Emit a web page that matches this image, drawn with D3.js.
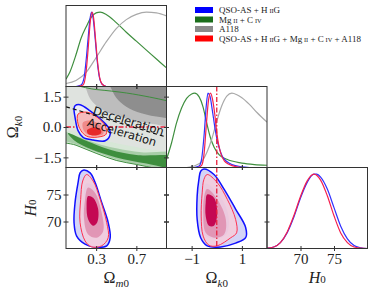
<!DOCTYPE html>
<html>
<head>
<meta charset="utf-8">
<script src="https://cdn.jsdelivr.net/npm/d3@7"></script>
<style>
  body { margin: 0; background: #fff; }
  svg { display: block; }
</style>
</head>
<body>
<svg id="chart" width="374" height="291"></svg>
<script>
// ---- tick values ----
var omTicks = [0.3, 0.7];
var okTicksY = [-1.5, 0, 1.5];
var okTicksX = [-1, 1];
var h0Ticks = [70, 75];

// ---- legend ----
var legendLabels = ["QSO-AS + H\u2009[II]G", "Mg\u2009[II] + C\u2009[IV]", "A118",
                    "QSO-AS + H\u2009[II]G + Mg\u2009[II] + C\u2009[IV] + A118"];
var legendColors = ["#0000ff", "#1b6e1b", "#8a8a8a", "#ff0000"];

// ---- 1D marginals [value, normalised density] ----
var omGreen = [[0,0.1],[0.04,0.2],[0.1,0.43],[0.15,0.65],[0.2,0.8],[0.25,0.93],[0.3,0.99],[0.34,1.0],[0.4,0.97],[0.5,0.86],[0.6,0.73],[0.7,0.61],[0.8,0.49],[0.9,0.37],[1.0,0.25]];
var omGray = [[0,0.04],[0.1,0.08],[0.2,0.19],[0.3,0.39],[0.4,0.6],[0.5,0.78],[0.6,0.9],[0.7,0.97],[0.8,1.0],[0.9,0.99],[1.0,0.95]];
var omBlue = [[0.1,0],[0.15,0.02],[0.18,0.12],[0.2,0.35],[0.22,0.65],[0.24,0.92],[0.255,1.0],[0.27,0.92],[0.29,0.65],[0.31,0.35],[0.33,0.14],[0.36,0.03],[0.4,0]];
var omRed = [[0.12,0],[0.17,0.02],[0.2,0.2],[0.22,0.5],[0.24,0.85],[0.26,1.0],[0.275,0.92],[0.295,0.62],[0.315,0.32],[0.335,0.12],[0.36,0.03],[0.4,0]];

var okGreen = [[-2,0.11],[-1.8,0.33],[-1.6,0.6],[-1.4,0.8],[-1.2,0.93],[-1,0.99],[-0.88,1.0],[-0.7,0.95],[-0.55,0.82],[-0.4,0.6],[-0.25,0.4],[-0.1,0.27],[0.1,0.17],[0.4,0.11],[1,0.06],[1.5,0.04],[2,0.03]];
var okGray = [[-1.2,0],[-0.9,0.02],[-0.6,0.08],[-0.4,0.2],[-0.2,0.38],[0,0.62],[0.2,0.83],[0.4,0.96],[0.6,1.0],[0.8,0.98],[1.0,0.94],[1.3,0.85],[1.6,0.74],[2.0,0.61]];
var okBlue = [[-0.9,0],[-0.7,0.02],[-0.6,0.12],[-0.5,0.45],[-0.42,0.82],[-0.35,1.0],[-0.27,0.96],[-0.18,0.78],[-0.08,0.55],[0.02,0.36],[0.12,0.24],[0.22,0.15],[0.4,0.08],[0.6,0.04],[1.0,0.01],[1.3,0]];
var okRed = [[-0.75,0],[-0.6,0.03],[-0.5,0.2],[-0.42,0.55],[-0.33,0.9],[-0.25,1.0],[-0.17,0.92],[-0.08,0.72],[0.0,0.47],[0.08,0.3],[0.18,0.17],[0.3,0.09],[0.5,0.04],[0.8,0.01],[1.1,0]];

var h0Blue = [[65,0.005],[66,0.02],[67,0.08],[68,0.21],[69,0.42],[70,0.68],[71,0.89],[72,1.0],[72.4,1.0],[73,0.96],[74,0.8],[75,0.55],[76,0.3],[77,0.13],[78,0.04],[79,0.01],[80,0]];
var h0Red = [[65,0.005],[66,0.02],[67,0.08],[68,0.22],[69,0.44],[70,0.7],[71,0.91],[72,1.0],[73,0.92],[74,0.71],[75,0.44],[76,0.21],[77,0.08],[78,0.02],[79,0.005],[80,0]];

// ---- 2D contours, Omega_m0 vs Omega_k0 ----
var mkGreenOuter = [[-0.1,2.0],[0.3,1.85],[0.6,1.68],[0.83,1.48],[1.0,1.3],[1.15,1.1],[1.15,-2.3],[0.9,-2.05],[0.7,-1.85],[0.5,-1.65],[0.3,-1.3],[0.1,-0.9],[-0.1,-0.55]];
var mkGrayOuter = [[-0.2,2.3],[1.2,2.3],[1.2,-1.3],[0.9,-1.15],[0.6,-0.9],[0.3,-0.55],[0.1,-0.25],[-0.2,0.1]];
var mkGrayMid = [[0.15,2.3],[1.2,2.3],[1.2,0.0],[0.9,0.12],[0.7,0.3],[0.5,0.55],[0.33,0.95],[0.24,1.4],[0.19,2.0]];
var mkGrayInner = [[0.42,2.3],[1.2,2.3],[1.2,0.4],[0.95,0.48],[0.75,0.68],[0.6,1.0],[0.5,1.45],[0.45,1.9]];
var mkGreenMid = [[-0.1,-0.1],[0.1,-0.45],[0.3,-0.8],[0.5,-1.05],[0.75,-1.25],[1.15,-1.35],[1.15,-2.2],[0.8,-1.92],[0.5,-1.6],[0.3,-1.25],[0.1,-0.85],[-0.1,-0.5]];
var mkGreenInner = [[0.02,-0.3],[0.2,-0.68],[0.44,-1.12],[0.7,-1.38],[1.15,-1.52],[1.15,-2.05],[0.8,-1.8],[0.5,-1.5],[0.25,-1.1],[0.08,-0.65]];
var mkBlueOuter = [[0.09,1.05],[0.14,1.1],[0.24,0.8],[0.34,0.4],[0.42,-0.01],[0.44,-0.35],[0.39,-0.68],[0.27,-0.64],[0.17,-0.51],[0.12,-0.18],[0.09,0.48],[0.08,0.89]];
var mkRedOuter = [[0.12,0.64],[0.21,0.73],[0.31,0.48],[0.39,0.06],[0.4,-0.35],[0.34,-0.48],[0.22,-0.48],[0.16,-0.26],[0.12,0.15]];
var mkRedMid = [[0.17,0.23],[0.26,0.31],[0.36,-0.01],[0.37,-0.35],[0.31,-0.43],[0.21,-0.35],[0.17,-0.1]];
var mkRedInner = [[0.21,-0.15],[0.27,-0.02],[0.34,-0.1],[0.35,-0.3],[0.29,-0.42],[0.22,-0.35]];
var qZeroLine = [[0, 1], [1, -0.5]];       // deceleration/acceleration boundary
var decelAt = [0.26, 0.64], accelAt = [0.205, 0.06];

// ---- 2D contours, Omega_m0 vs H0 ----
var mhBlueOuter = [[0.17,79.5],[0.24,79.0],[0.29,77.2],[0.355,73.5],[0.42,69.8],[0.44,67.0],[0.405,65.5],[0.27,65.3],[0.19,65.8],[0.106,67.3],[0.08,69.8],[0.09,73.5],[0.12,77.2],[0.14,79.0]];
var mhBlueMid = [[0.2,77.0],[0.28,76.5],[0.345,72.5],[0.36,68.8],[0.3,67.6],[0.21,68.2],[0.17,71],[0.175,74.5]];
var mhBlueInner = [[0.2,75.5],[0.265,75.2],[0.31,72.8],[0.3,70.2],[0.25,69.6],[0.2,70.8],[0.19,73.5]];
var mhRedOuter = [[0.205,78.7],[0.27,77.5],[0.34,74.1],[0.405,69.8],[0.42,67.0],[0.355,65.5],[0.255,65.3],[0.19,66.4],[0.14,69.8],[0.146,74.1],[0.166,77.5]];
var mhRedMid = [[0.22,76.3],[0.29,75.3],[0.355,71.6],[0.37,68.2],[0.305,67.0],[0.22,67.6],[0.18,70.4],[0.19,74.1]];
var mhRedInner = [[0.22,74.7],[0.27,74.4],[0.32,72.3],[0.31,69.8],[0.27,69.2],[0.22,70.4],[0.205,72.9]];

// ---- 2D contours, Omega_k0 vs H0 ----
var khBlueOuter = [[-0.51,79.7],[-0.11,78.7],[0.29,76.0],[0.75,72.3],[1.15,68.9],[1.15,67.0],[0.75,66.0],[0.16,65.3],[-0.38,65.5],[-0.64,67.0],[-0.78,70.4],[-0.78,74.7],[-0.71,77.8],[-0.64,79.3]];
var khBlueMid = [[-0.45,77],[0.0,75.5],[0.45,71.5],[0.4,67.8],[-0.05,66.8],[-0.5,67.6],[-0.62,71.5],[-0.58,75.3]];
var khBlueInner = [[-0.42,76],[-0.12,75.3],[0.05,72.3],[-0.1,69.6],[-0.35,69.4],[-0.5,71.3],[-0.5,74.2]];
var khRedOuter = [[-0.38,78.7],[0.02,77.2],[0.42,74.1],[0.75,70.4],[0.79,67.9],[0.56,67.0],[0.02,65.5],[-0.31,65.6],[-0.54,67.3],[-0.62,71.0],[-0.58,75.3],[-0.51,77.8]];
var khRedMid = [[-0.38,76.0],[0.02,74.1],[0.36,70.4],[0.29,67.6],[-0.11,67.0],[-0.44,67.9],[-0.54,71.6],[-0.51,74.4]];
var khRedInner = [[-0.38,75.0],[-0.11,74.4],[0.02,71.6],[-0.11,69.2],[-0.31,69.2],[-0.44,71.0],[-0.44,73.5]];

var flatOk = 0;   // reference Omega_k0 = 0

// ---- layout ----
var svg = d3.select("#chart");
var L = 66, T = 5.5, PW = 100.5, PH = 81;
var serif = "'Liberation Serif', 'DejaVu Serif', serif";
function cx(i) { return L + i * PW; }
function ry(j) { return T + j * PH; }

var xOm = d3.scaleLinear().domain([0, 1]).range([cx(0), cx(1)]);
var xOk = d3.scaleLinear().domain([-2, 2]).range([cx(1), cx(2)]);
var xH0 = d3.scaleLinear().domain([65, 80]).range([cx(2), cx(3)]);
var yOk = d3.scaleLinear().domain([-2, 2]).range([ry(2), ry(1)]);
var yH0 = d3.scaleLinear().domain([65, 80]).range([ry(3), ry(2)]);
function yPdf(j) { return d3.scaleLinear().domain([0, 1.09]).range([ry(j + 1), ry(j)]); }

var defs = svg.append("defs");
function panel(id, i, j) {
    defs.append("clipPath").attr("id", id).append("rect")
        .attr("x", cx(i)).attr("y", ry(j)).attr("width", PW).attr("height", PH);
    return svg.append("g").attr("clip-path", "url(#" + id + ")");
}

function contour(g, pts, x, y, fill, opacity, stroke, sw) {
    var line = d3.line().x(function (d) { return x(d[0]); }).y(function (d) { return y(d[1]); })
        .curve(d3.curveCatmullRomClosed.alpha(0.5));
    g.append("path").datum(pts).attr("d", line)
        .attr("fill", fill || "none").attr("fill-opacity", opacity == null ? 1 : opacity)
        .attr("stroke", stroke || "none").attr("stroke-width", sw || 0);
}

function pdf(g, pts, x, y, color, sw) {
    var line = d3.line().x(function (d) { return x(d[0]); }).y(function (d) { return y(d[1]); })
        .curve(d3.curveMonotoneX);
    g.append("path").datum(pts).attr("d", line)
        .attr("fill", "none").attr("stroke", color).attr("stroke-width", sw || 1.2);
}

function refLine(g, x1, y1, x2, y2) {
    g.append("line").attr("x1", x1).attr("y1", y1).attr("x2", x2).attr("y2", y2)
        .attr("stroke", "#e8203c").attr("stroke-width", 1.3).attr("stroke-dasharray", "5,2,1.5,2");
}

// ---- row 1: Omega_m0 marginal ----
var p11 = panel("c11", 0, 0), y11 = yPdf(0);
pdf(p11, omGreen, xOm, y11, "#3f8f3f");
pdf(p11, omGray, xOm, y11, "#a9a9a9");
pdf(p11, omBlue, xOm, y11, "#3030ff");
pdf(p11, omRed, xOm, y11, "#f5204e");

// ---- row 2: Omega_m0 vs Omega_k0 ----
var p21 = panel("c21", 0, 1);
contour(p21, mkGreenOuter, xOm, yOk, "#d7e7d7");
contour(p21, mkGrayOuter, xOm, yOk, "#e2e2e2", 0.75);
contour(p21, mkGrayMid, xOm, yOk, "#bdbdbd");
contour(p21, mkGrayInner, xOm, yOk, "#8e8e8e");
contour(p21, mkGreenMid, xOm, yOk, "#a7cda7");
contour(p21, mkGreenInner, xOm, yOk, "#3e8e3e");
contour(p21, mkGreenOuter, xOm, yOk, null, 0, "#3e8e3e", 1);
refLine(p21, cx(0), yOk(flatOk), cx(1), yOk(flatOk));
contour(p21, mkBlueOuter, xOm, yOk, "#ecebf8", 0.9, "#1010ff", 1.5);
contour(p21, mkRedOuter, xOm, yOk, "#f6b8b8", 0.95, "#ff3030", 1);
contour(p21, mkRedMid, xOm, yOk, "#f08a8a");
contour(p21, mkRedInner, xOm, yOk, "#e62a2a");

p21.append("path").datum(qZeroLine)
    .attr("d", d3.line().x(function (d) { return xOm(d[0]); }).y(function (d) { return yOk(d[1]); }))
    .attr("fill", "none").attr("stroke", "#111").attr("stroke-width", 1.2).attr("stroke-dasharray", "4,3");
var qAngle = Math.atan2(yOk(qZeroLine[1][1]) - yOk(qZeroLine[0][1]), xOm(qZeroLine[1][0]) - xOm(qZeroLine[0][0])) * 180 / Math.PI;
[[decelAt, "Deceleration"], [accelAt, "Acceleration"]].forEach(function (t) {
    p21.append("text")
        .attr("transform", "translate(" + xOm(t[0][0]) + "," + yOk(t[0][1]) + ") rotate(" + qAngle + ")")
        .attr("font-family", "'DejaVu Sans', sans-serif").attr("font-size", 11.5).attr("fill", "#111")
        .text(t[1]);
});

// ---- row 2: Omega_k0 marginal ----
var p22 = panel("c22", 1, 1), y22 = yPdf(1);
pdf(p22, okGreen, xOk, y22, "#3f8f3f");
pdf(p22, okGray, xOk, y22, "#a9a9a9");
pdf(p22, okBlue, xOk, y22, "#3030ff");
pdf(p22, okRed, xOk, y22, "#f5204e");
refLine(p22, xOk(flatOk), ry(1), xOk(flatOk), ry(2));

// ---- row 3: Omega_m0 vs H0 ----
var p31 = panel("c31", 0, 2);
contour(p31, mhBlueOuter, xOm, yH0, "#d4d4f6", 1, "#1010ff", 1.5);
contour(p31, mhBlueMid, xOm, yH0, "#b6b6ee");
contour(p31, mhBlueInner, xOm, yH0, "#9a9ae2");
contour(p31, mhRedOuter, xOm, yH0, "#f4ccdb", 0.85, "#ff3050", 1);
contour(p31, mhRedMid, xOm, yH0, "#e090b0", 0.9);
contour(p31, mhRedInner, xOm, yH0, "#c2004e", 0.95);

// ---- row 3: Omega_k0 vs H0 ----
var p32 = panel("c32", 1, 2);
contour(p32, khBlueOuter, xOk, yH0, "#d4d4f6", 1, "#1010ff", 1.5);
contour(p32, khBlueMid, xOk, yH0, "#b6b6ee");
contour(p32, khBlueInner, xOk, yH0, "#9a9ae2");
contour(p32, khRedOuter, xOk, yH0, "#f4ccdb", 0.85, "#ff3050", 1);
contour(p32, khRedMid, xOk, yH0, "#e090b0", 0.9);
contour(p32, khRedInner, xOk, yH0, "#c2004e", 0.95);
refLine(p32, xOk(flatOk), ry(2), xOk(flatOk), ry(3));

// ---- row 3: H0 marginal ----
var p33 = panel("c33", 2, 2), y33 = yPdf(2);
pdf(p33, h0Blue, xH0, y33, "#3030ff");
pdf(p33, h0Red, xH0, y33, "#f5204e");

// ---- frames ----
[[0, 0], [0, 1], [1, 1], [0, 2], [1, 2], [2, 2]].forEach(function (p) {
    svg.append("rect").attr("x", cx(p[0])).attr("y", ry(p[1])).attr("width", PW).attr("height", PH)
        .attr("fill", "none").attr("stroke", "#333").attr("stroke-width", 1);
});

// ---- ticks (in-out) ----
function ticks(axisFn, scale, vals, fmt, tx, ty, vertical) {
    var a = axisFn(scale).tickValues(vals).tickSize(2.5).tickPadding(2).tickFormat(fmt ? d3.format(fmt) : "");
    var g = svg.append("g").attr("transform", "translate(" + tx + "," + ty + ")").call(a)
        .attr("font-family", serif).attr("font-size", 15);
    g.select(".domain").remove();
    g.selectAll(".tick line").attr("stroke", "#333").each(function () {
        var l = d3.select(this);
        if (vertical) l.attr("y1", -l.attr("y2")); else l.attr("x1", -l.attr("x2"));
    });
    g.selectAll(".tick text").attr("fill", "#222");
}
// column 1 x
ticks(d3.axisBottom, xOm, omTicks, null, 0, ry(1), true);
ticks(d3.axisTop, xOm, omTicks, null, 0, ry(1), true);
ticks(d3.axisBottom, xOm, omTicks, null, 0, ry(2), true);
ticks(d3.axisTop, xOm, omTicks, null, 0, ry(2), true);
ticks(d3.axisBottom, xOm, omTicks, ".1f", 0, ry(3), true);
// column 2 x
ticks(d3.axisBottom, xOk, okTicksX, null, 0, ry(2), true);
ticks(d3.axisTop, xOk, okTicksX, null, 0, ry(2), true);
ticks(d3.axisBottom, xOk, okTicksX, "d", 0, ry(3), true);
// column 3 x
ticks(d3.axisBottom, xH0, h0Ticks, "d", 0, ry(3), true);
// row 2 y
ticks(d3.axisLeft, yOk, okTicksY, ".1f", cx(0), 0, false);
ticks(d3.axisRight, yOk, okTicksY, null, cx(1), 0, false);
// row 3 y
ticks(d3.axisLeft, yH0, h0Ticks, "d", cx(0), 0, false);
ticks(d3.axisRight, yH0, h0Ticks, null, cx(1), 0, false);
ticks(d3.axisLeft, yH0, h0Ticks, null, cx(1), 0, false);
ticks(d3.axisRight, yH0, h0Ticks, null, cx(2), 0, false);

// ---- axis labels ----
function mathLabel(x, y, main, mainItalic, sub, subItalic, rotate) {
    var t = svg.append("text").attr("font-family", serif).attr("font-size", 16).attr("fill", "#222")
        .attr("text-anchor", "middle")
        .attr("transform", "translate(" + x + "," + y + ")" + (rotate ? " rotate(-90)" : ""));
    t.append("tspan").attr("font-style", mainItalic ? "italic" : "normal").text(main);
    t.append("tspan").attr("font-size", 11).attr("dy", 3.5).attr("font-style", "italic").text(subItalic);
    if (sub) t.append("tspan").attr("font-size", 11).text(sub);
}
mathLabel((cx(0) + cx(1)) / 2, 283, "\u03A9", false, "0", "m", false);
mathLabel((cx(1) + cx(2)) / 2, 283, "\u03A9", false, "0", "k", false);
mathLabel((cx(2) + cx(3)) / 2, 283, "H", true, "0", "", false);
mathLabel(18, (ry(1) + ry(2)) / 2, "\u03A9", false, "0", "k", true);
mathLabel(36, (ry(2) + ry(3)) / 2, "H", true, "0", "", true);

// ---- legend ----
var legend = svg.append("g").attr("transform", "translate(195,10)");
legendLabels.forEach(function (lab, i) {
    var row = legend.append("g").attr("transform", "translate(0," + (i * 9.5) + ")");
    row.append("rect").attr("x", 0).attr("y", -3).attr("width", 18).attr("height", 6).attr("fill", legendColors[i]);
    var t = row.append("text").attr("x", 24).attr("y", 3.2).attr("font-family", serif)
        .attr("font-size", 9).attr("fill", "#222");
    lab.split(/(\[[A-Z]+\])/).forEach(function (part) {
        if (!part) return;
        if (part[0] === "[") t.append("tspan").attr("font-size", 6.3).text(part.slice(1, -1));
        else t.append("tspan").text(part);
    });
});
</script>
</body>
</html>
